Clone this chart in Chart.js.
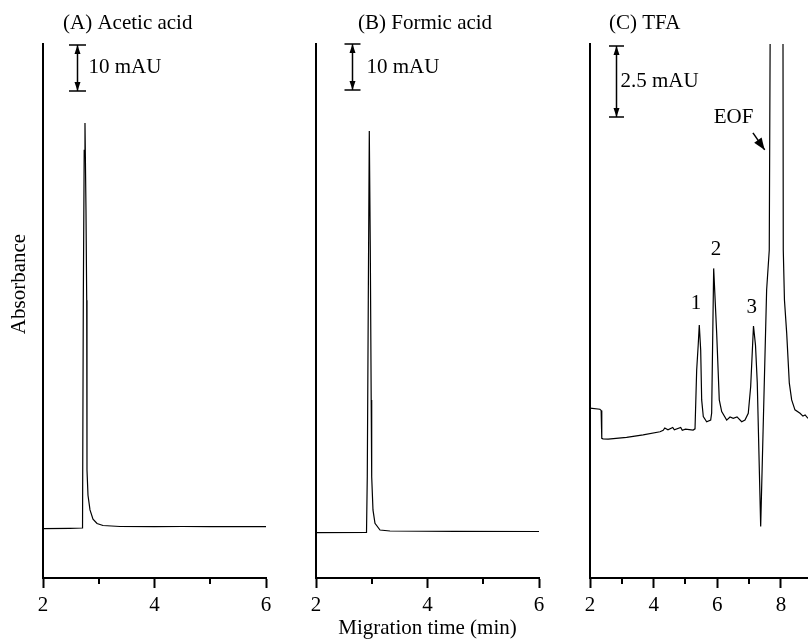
<!DOCTYPE html>
<html>
<head>
<meta charset="utf-8">
<script src="https://cdn.jsdelivr.net/npm/chart.js@4.4.1/dist/chart.umd.min.js"></script>
<style>
body { margin: 0; background: #fff; }
#wrap { position: relative; width: 808px; height: 641px; overflow: hidden; }
canvas { position: absolute; left: 0; top: 0; }
</style>
</head>
<body>
<div id="wrap">
<canvas id="panelA" width="808" height="641"></canvas>
<canvas id="panelB" width="808" height="641"></canvas>
<canvas id="panelC" width="808" height="641"></canvas>
</div>
<script>
// (A) acetic acid - migration time (min) / absorbance (mAU)
const timeA = [2.0, 2.484, 2.705, 2.709, 2.723, 2.739, 2.753, 2.771, 2.784, 2.789, 2.807, 2.843, 2.897, 2.969, 3.076, 3.381, 4.0, 4.5, 5.0, 6.0];
const absA = [10.72, 10.80, 10.87, 10.98, 60.4, 93.0, 98.9, 80.0, 60.4, 23.5, 18.0, 14.8, 12.8, 11.85, 11.41, 11.2, 11.15, 11.2, 11.15, 11.15];

// (B) formic acid
const timeB = [2.0, 2.906, 2.920, 2.938, 2.956, 2.974, 2.990, 2.999, 3.022, 3.058, 3.148, 3.327, 4.5, 6.0];
const absB = [9.85, 9.89, 22.2, 60.4, 97.2, 71.3, 38.7, 22.0, 14.8, 11.9, 10.43, 10.22, 10.15, 10.11];

// (C) TFA, EOF peak goes off scale
const timeC = [2.00, 2.31, 2.35, 2.37, 2.41, 2.57, 3.15, 3.67, 4.20, 4.30, 4.35, 4.45, 4.60, 4.65, 4.85, 4.90, 5.0, 5.24, 5.30, 5.352,
  5.40, 5.434, 5.478, 5.509, 5.56, 5.666, 5.792, 5.823, 5.886, 5.98, 6.062, 6.138, 6.295, 6.40, 6.50, 6.62, 6.766, 6.87, 6.973, 7.049,
  7.137, 7.20, 7.256, 7.363, 7.55, 7.633, 7.664, 7.86, 8.063, 8.073, 8.11, 8.18, 8.262, 8.337, 8.44, 8.60, 8.69, 8.76, 8.85];
const absC = [5.98, 5.94, 5.90, 4.92, 4.90, 4.89, 4.95, 5.04, 5.15, 5.20, 5.28, 5.22, 5.30, 5.22, 5.30, 5.20, 5.24, 5.21, 5.25, 7.32,
  8.20, 8.91, 8.03, 6.27, 5.68, 5.50, 5.56, 5.81, 10.90, 8.63, 6.27, 5.86, 5.56, 5.67, 5.62, 5.67, 5.50, 5.56, 5.80, 6.74,
  8.87, 8.20, 6.87, 1.81, 10.14, 11.55, 20.0, 24.0, 20.0, 11.55, 9.79, 8.63, 6.87, 6.27, 5.92, 5.80, 5.70, 5.74, 5.62];

const peakLabelsC = ['1', '2', '3'];
const peakLabelTimes = [5.33, 5.96, 7.08];
const peakLabelAbs = [9.68, 11.55, 9.51];

Chart.defaults.font.family = '"Liberation Serif", "Times New Roman", serif';
Chart.defaults.font.size = 21;
Chart.defaults.color = '#000';

const panelDecor = {
    id: 'panelDecor',
    afterDraw(chart, args, opts) {
        const {ctx, chartArea} = chart;
        const x = chart.scales.x, y = chart.scales.y;
        ctx.save();
        ctx.fillStyle = '#000';
        ctx.strokeStyle = '#000';
        ctx.font = '21px "Liberation Serif"';
        ctx.textBaseline = 'middle';

        ctx.textAlign = 'left';
        ctx.fillText(opts.title, x.getPixelForValue(opts.titleAt), chartArea.top - 21);

        // minor ticks
        ctx.lineWidth = 2;
        opts.minorTicks.forEach(v => {
            const px = Math.round(x.getPixelForValue(v));
            ctx.beginPath();
            ctx.moveTo(px, chartArea.bottom);
            ctx.lineTo(px, chartArea.bottom + 6);
            ctx.stroke();
        });

        // scale bar
        const b = opts.bar;
        const bx = Math.round(x.getPixelForValue(b.at)) + 0.5;
        const y1 = y.getPixelForValue(b.top), y2 = y.getPixelForValue(b.bottom);
        ctx.lineWidth = 1.5;
        ctx.beginPath();
        ctx.moveTo(bx, y1); ctx.lineTo(bx, y2);
        ctx.moveTo(bx - b.cap, y1); ctx.lineTo(bx + b.cap, y1);
        ctx.moveTo(bx - b.cap, y2); ctx.lineTo(bx + b.cap, y2);
        ctx.stroke();
        ctx.beginPath();
        ctx.moveTo(bx, y1); ctx.lineTo(bx - 3, y1 + 9); ctx.lineTo(bx + 3, y1 + 9); ctx.closePath();
        ctx.moveTo(bx, y2); ctx.lineTo(bx - 3, y2 - 9); ctx.lineTo(bx + 3, y2 - 9); ctx.closePath();
        ctx.fill();
        ctx.fillText(b.label, bx + b.gap, (y1 + y2) / 2);

        // peak labels
        ctx.textAlign = 'center';
        (opts.labels || []).forEach(l => {
            ctx.fillText(l.text, x.getPixelForValue(l.x), y.getPixelForValue(l.y));
        });

        // EOF arrow
        if (opts.arrow) {
            const a = opts.arrow;
            const x0 = x.getPixelForValue(a.from[0]), y0 = y.getPixelForValue(a.from[1]);
            const x1 = x.getPixelForValue(a.to[0]), yy1 = y.getPixelForValue(a.to[1]);
            ctx.fillText(a.text, x.getPixelForValue(a.textAt[0]), y.getPixelForValue(a.textAt[1]));
            const ang = Math.atan2(yy1 - y0, x1 - x0);
            ctx.lineWidth = 1.5;
            ctx.beginPath();
            ctx.moveTo(x0, y0); ctx.lineTo(x1, yy1);
            ctx.stroke();
            ctx.beginPath();
            ctx.moveTo(x1, yy1);
            ctx.lineTo(x1 - 12 * Math.cos(ang) + 4.5 * Math.sin(ang), yy1 - 12 * Math.sin(ang) - 4.5 * Math.cos(ang));
            ctx.lineTo(x1 - 12 * Math.cos(ang) - 4.5 * Math.sin(ang), yy1 - 12 * Math.sin(ang) + 4.5 * Math.cos(ang));
            ctx.closePath();
            ctx.fill();
        }

        if (opts.yTitle) {
            ctx.translate(19, (chartArea.top + chartArea.bottom) / 2 - 27);
            ctx.rotate(-Math.PI / 2);
            ctx.fillText(opts.yTitle, 0, 0);
        }
        ctx.restore();
    }
};

function makePanel(id, times, values, xMax, yMax, padLeft, padRight, xTitle, decor) {
    const points = times.map((t, i) => ({x: t, y: values[i]}));
    return new Chart(document.getElementById(id), {
        type: 'line',
        data: {
            datasets: [{
                data: points,
                borderColor: '#000',
                borderWidth: 1.2,
                pointRadius: 0,
                tension: 0,
                fill: false
            }]
        },
        plugins: [panelDecor],
        options: {
            responsive: false,
            animation: false,
            events: [],
            layout: {padding: {left: padLeft, right: padRight, top: 44, bottom: 0}},
            plugins: {
                legend: {display: false},
                tooltip: {enabled: false},
                panelDecor: decor
            },
            scales: {
                x: {
                    type: 'linear',
                    min: 2,
                    max: xMax,
                    afterFit: s => { s.height = 63; },
                    ticks: {stepSize: 2, includeBounds: false, padding: 5, font: {size: 21}},
                    grid: {drawOnChartArea: false, drawTicks: true, tickLength: 10, tickWidth: 2, tickColor: '#000'},
                    border: {display: true, color: '#000', width: 2},
                    title: {display: !!xTitle, text: xTitle || '', font: {size: 21}, padding: {top: 0, bottom: 0}}
                },
                y: {
                    min: 0,
                    max: yMax,
                    afterFit: s => { s.width = 43; },
                    ticks: {display: false},
                    grid: {display: false, drawTicks: false},
                    border: {display: true, color: '#000', width: 2}
                }
            }
        }
    });
}

makePanel('panelA', timeA, absA, 6, 116.1, 0, 542, null, {
    title: '(A) Acetic acid', titleAt: 2.359,
    minorTicks: [3, 5],
    bar: {at: 2.61, top: 115.9, bottom: 105.9, cap: 8.5, gap: 11, label: '10 mAU'},
    yTitle: 'Absorbance'
});

makePanel('panelB', timeB, absB, 6, 116.1, 273, 269, 'Migration time (min)', {
    title: '(B) Formic acid', titleAt: 2.753,
    minorTicks: [3, 5],
    bar: {at: 2.646, top: 116.1, bottom: 106.1, cap: 8, gap: 14, label: '10 mAU'}
});

makePanel('panelC', timeC, absC, 8.85, 18.8, 547, 0, null, {
    title: '(C) TFA', titleAt: 2.597,
    minorTicks: [3, 5, 7],
    bar: {at: 2.817, top: 18.73, bottom: 16.23, cap: 7.5, gap: 4, label: '2.5 mAU'},
    labels: peakLabelsC.map((t, i) => ({text: t, x: peakLabelTimes[i], y: peakLabelAbs[i]})),
    arrow: {text: 'EOF', textAt: [6.51, 16.2], from: [7.12, 15.67], to: [7.49, 15.07]}
});
</script>
</body>
</html>
